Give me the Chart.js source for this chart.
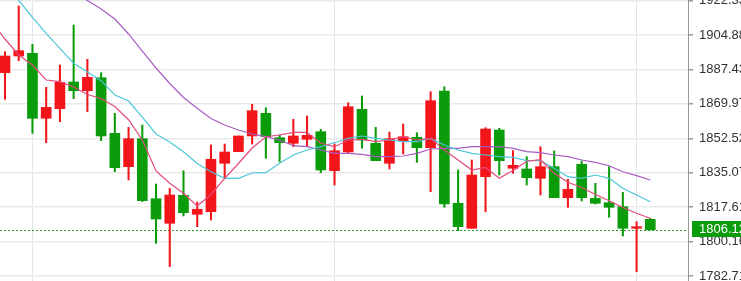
<!DOCTYPE html>
<html><head><meta charset="utf-8">
<script src="https://cdn.jsdelivr.net/npm/chart.js@4/dist/chart.umd.min.js"></script>
<style>html,body{margin:0;padding:0;overflow:hidden;background:#fff;width:741px;height:281px}canvas{display:block}</style>
</head><body>
<canvas id="c" width="780" height="281"></canvas>
<script>
// Candle data (index 0..47)
const opens=[1885.78,1894.24,1895.61,1862.67,1867.53,1881.06,1876.65,1883.24,1855.06,1838.14,1852.33,1821.92,1809.45,1823.64,1814.01,1815.33,1839.86,1845.74,1853.70,1865.20,1852.83,1850.00,1852.02,1855.87,1836.11,1845.59,1867.23,1850.00,1839.86,1851.31,1853.04,1847.77,1876.50,1819.59,1806.92,1833.07,1856.74,1837.33,1836.97,1832.26,1838.14,1822.43,1839.35,1822.12,1819.89,1817.86,1806.92,1811.48];
const highs=[1896.42,1919.58,1900.17,1878.38,1889.68,1909.95,1892.57,1885.78,1865.20,1858.10,1859.27,1829.37,1827.19,1836.11,1820.25,1849.13,1849.64,1853.70,1869.76,1868.04,1854.20,1862.16,1863.83,1857.09,1849.64,1870.57,1873.97,1858.10,1855.72,1859.78,1855.37,1876.15,1878.68,1836.46,1841.53,1857.90,1857.60,1846.25,1843.20,1848.27,1846.09,1831.75,1841.03,1829.72,1838.14,1825.16,1810.26,1811.99];
const lows=[1872.29,1891.86,1855.06,1850.30,1860.94,1872.60,1866.01,1851.31,1835.60,1831.40,1820.50,1799.32,1787.46,1813.15,1807.73,1811.12,1832.26,1845.74,1849.64,1842.39,1840.67,1848.27,1848.27,1835.09,1828.86,1844.93,1847.46,1841.18,1836.97,1844.57,1840.37,1825.47,1817.56,1805.70,1806.92,1815.33,1833.93,1834.79,1828.86,1823.79,1822.43,1817.56,1820.75,1819.23,1812.49,1803.02,1784.92,1806.12];
const closes=[1894.24,1896.93,1862.67,1868.24,1880.91,1876.65,1883.44,1853.70,1837.63,1852.33,1820.91,1811.63,1823.79,1814.82,1816.55,1841.89,1845.59,1853.70,1866.52,1853.34,1850.30,1853.70,1854.05,1836.46,1846.25,1868.54,1851.67,1841.18,1852.33,1853.34,1847.77,1871.58,1819.23,1807.73,1833.93,1857.24,1841.18,1838.85,1832.56,1838.14,1822.43,1826.68,1822.43,1819.59,1817.56,1806.92,1807.73,1806.12];

// Moving averages, starting at index -1
const maStart=-1;
const ma5=[1911.98,1902.85,1894.75,1889.68,1882.08,1881.21,1878.53,1874.73,1872.70,1868.65,1861.96,1851.67,1835.96,1829.72,1824.66,1818.22,1824.05,1832.26,1839.76,1847.61,1853.34,1854.20,1855.57,1855.57,1850.00,1848.27,1851.67,1852.02,1850.81,1851.67,1853.34,1851.67,1852.53,1846.60,1841.53,1836.46,1837.73,1832.26,1836.21,1840.92,1841.68,1834.79,1830.28,1827.59,1824.05,1820.85,1817.46,1814.52,1811.99];
const ma10=[1939.85,1931.24,1922.37,1913.85,1905.74,1898.14,1890.54,1886.13,1881.72,1874.47,1871.43,1863.32,1854.71,1850.65,1845.74,1839.76,1835.60,1832.26,1832.26,1834.94,1835.10,1839.86,1844.07,1846.60,1848.27,1850.30,1852.53,1853.70,1852.53,1851.67,1850.81,1850.81,1852.43,1849.13,1846.60,1844.93,1844.07,1843.20,1842.90,1841.18,1841.18,1837.33,1833.07,1832.26,1833.93,1832.26,1827.19,1823.79,1820.40];
const ma20=[null,null,null,null,null,1931.24,1926.67,1922.37,1918.06,1912.99,1905.39,1896.77,1888.16,1880.30,1873.21,1867.73,1862.56,1859.27,1856.74,1854.71,1853.34,1851.67,1848.78,1848.27,1846.60,1844.93,1844.93,1844.42,1843.20,1843.20,1843.56,1844.93,1847.11,1847.46,1847.46,1848.27,1848.37,1848.27,1847.46,1845.74,1845.23,1844.07,1843.20,1841.53,1840.37,1838.64,1835.60,1833.58,1831.40];

const yTickLabels=['1782.71','1800.16','1817.61','1835.07','1852.52','1869.97','1887.43','1904.88','1922.33'];
const xGridAt=[2,24,46];
const lastPriceLabel='1806.12';

const RED='#f2161b', GREEN='#0a9c0a';
const idx=opens.map((_,i)=>i);
const cols=idx.map(i=>closes[i]>=opens[i]?RED:GREEN);
const wickData=idx.map(i=>({x:i,y:[lows[i],highs[i]]}));
const bodyData=idx.map(i=>({x:i,y:[opens[i],closes[i]]}));
const maPts=a=>a.map((v,k)=>({x:k+maStart,y:v}));
const lastPrice=parseFloat(lastPriceLabel);
const FONT={family:'Liberation Sans, Arial, sans-serif',size:13};

const pricePlugin={id:'price',
  beforeDatasetsDraw(chart){
    const {ctx,chartArea:a,scales:{y}}=chart;
    const py=Math.round(y.getPixelForValue(lastPrice))+0.5;
    ctx.save();ctx.strokeStyle='#2a9d2a';ctx.lineWidth=1;ctx.setLineDash([2,2]);
    ctx.beginPath();ctx.moveTo(a.left,py);ctx.lineTo(a.right,py);ctx.stroke();ctx.restore();
  },
  afterDraw(chart){
    const {ctx,chartArea:a,scales:{y}}=chart;
    const py=Math.round(y.getPixelForValue(lastPrice));
    ctx.save();
    ctx.fillStyle=GREEN;ctx.fillRect(a.right+4,py-9,chart.width-a.right,16);
    ctx.fillStyle='#fff';ctx.font=FONT.size+'px '+FONT.family;ctx.textBaseline='middle';ctx.textAlign='left';
    ctx.fillText(lastPriceLabel,a.right+11,py-1);
    ctx.restore();
  }
};

new Chart(document.getElementById('c'),{
  type:'bar',
  data:{datasets:[
    {type:'line',data:maPts(ma5),borderColor:'#e5497c',borderWidth:1.2,pointRadius:0,tension:0,order:0},
    {type:'line',data:maPts(ma10),borderColor:'#4cc6d8',borderWidth:1.2,pointRadius:0,tension:0,order:0},
    {type:'line',data:maPts(ma20),borderColor:'#a95dc4',borderWidth:1.2,pointRadius:0,tension:0,order:0},
    {data:bodyData,backgroundColor:cols,barThickness:10,grouped:false,borderWidth:0,minBarLength:1,order:1},
    {data:wickData,backgroundColor:cols,barThickness:1.4,grouped:false,borderWidth:0,order:2}
  ]},
  options:{
    responsive:false,animation:false,devicePixelRatio:1,
    layout:{padding:0},
    plugins:{legend:{display:false},tooltip:{enabled:false}},
    scales:{
      x:{type:'linear',min:-0.364,max:49.746,offset:false,
        grid:{color:'#dde4ee',lineWidth:1,drawTicks:false,offset:false},
        border:{display:false},ticks:{display:false},
        afterBuildTicks:s=>{s.ticks=xGridAt.map(v=>({value:v}));},
        afterFit:s=>{s.height=0;s.paddingLeft=0;s.paddingRight=0;}
      },
      y:{position:'right',min:1780.21,max:1922.62,
        grid:{color:'#e9e9e9',lineWidth:1.5,drawTicks:true,tickLength:5,tickColor:'#999'},
        border:{display:true,color:'#9a9a9a',width:1},
        ticks:{padding:6,color:'#333',font:FONT,autoSkip:false,callback:(v,i)=>yTickLabels[i]},
        afterBuildTicks:s=>{s.ticks=yTickLabels.map(t=>({value:parseFloat(t)}));},
        afterFit:s=>{s.width=92;s.paddingTop=0;s.paddingBottom=0;}
      }
    }
  },
  plugins:[pricePlugin]
});
</script>
</body></html>
